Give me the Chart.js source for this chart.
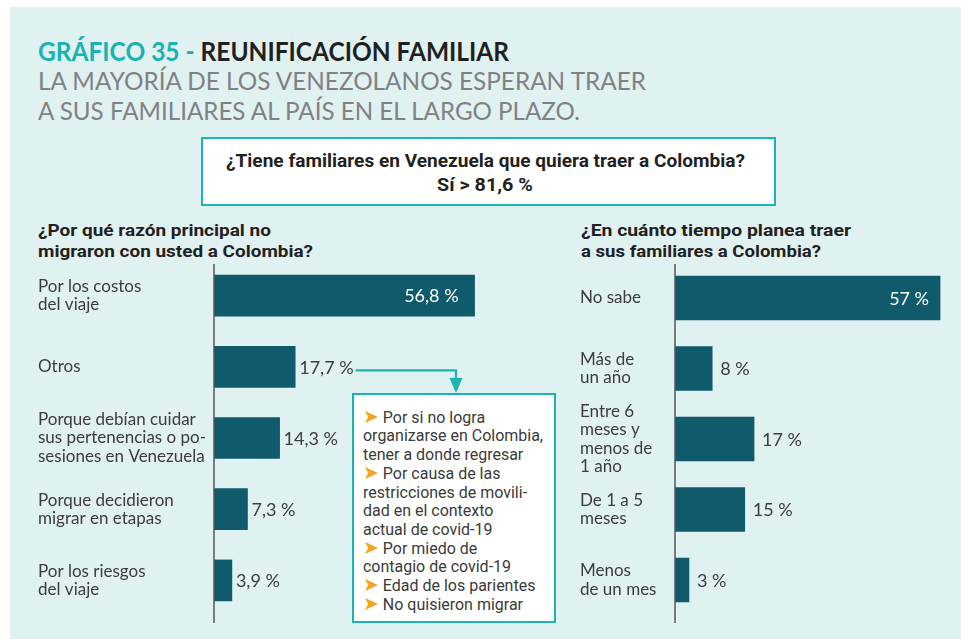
<!DOCTYPE html>
<html><head><meta charset="utf-8">
<script src="https://cdn.jsdelivr.net/npm/chart.js@4.4.1/dist/chart.umd.min.js"></script>
<style>
html,body{margin:0;padding:0;background:#fff;width:961px;height:639px;overflow:hidden;position:relative}
#panel{position:absolute;left:10px;top:7px;right:0;bottom:0;background:#e0f1f1}
.t{position:absolute;white-space:nowrap;line-height:1;transform-origin:0 0;left:0;top:0}
.box{position:absolute;background:#fff;border:2.6px solid #19b5b3;box-sizing:border-box}
canvas{position:absolute}
.hd{font:700 17px Roboto;color:#231f20}
.bx{font:700 19px Roboto;color:#231f20}
#info{position:absolute;left:0;top:0;font:400 16px Roboto;color:#3a3a3a;line-height:18.73px;white-space:nowrap;transform-origin:0 0}
#info div{height:18.73px}
#info b{color:#f2a71b;font-weight:400;font-family:"DejaVu Sans";font-size:19px;line-height:0}
</style></head><body>
<div id="panel"></div>

<div class="t" data-x="38" data-b="61" data-w="471" style="font:700 26px Lato"><span class="in"><span style="color:#19b3b1">GRÁFICO 35 - </span><span style="color:#231f20">REUNIFICACIÓN FAMILIAR</span></span></div>
<div class="t" data-x="38" data-b="90" data-w="608" style="font:400 25px Lato;color:#808184"><span class="in">LA MAYORÍA DE LOS VENEZOLANOS ESPERAN TRAER</span></div>
<div class="t" data-x="38" data-b="120" data-w="542" style="font:400 25px Lato;color:#808184"><span class="in">A SUS FAMILIARES AL PAÍS EN EL LARGO PLAZO.</span></div>

<div class="box" style="left:200.5px;top:137px;width:575px;height:69px"></div>
<div class="t bx" data-x="226" data-b="167.3" data-w="519"><span class="in">¿Tiene familiares en Venezuela que quiera traer a Colombia?</span></div>
<div class="t bx" id="yesline" data-x="436.7" data-b="191.3" data-w="96"><span class="in"></span></div>

<div class="t hd" data-x="38" data-b="236" data-w="233"><span class="in">¿Por qué razón principal no</span></div>
<div class="t hd" data-x="38" data-b="256.7" data-w="275"><span class="in">migraron con usted a Colombia?</span></div>
<div class="t hd" data-x="581" data-b="236" data-w="270"><span class="in">¿En cuánto tiempo planea traer</span></div>
<div class="t hd" data-x="581" data-b="256.7" data-w="240"><span class="in">a sus familiares a Colombia?</span></div>

<canvas id="c1" width="543" height="385" style="left:38px;top:250px"></canvas>
<canvas id="c2" width="374" height="385" style="left:580px;top:250px"></canvas>

<div class="box" style="left:352px;top:393px;width:204px;height:230px;border-width:2.7px"></div>
<div id="info">
<div id="l0"><b>➤</b> Por si no logra</div>
<div><span id="ref">organizarse en Colombia,</span></div>
<div>tener a donde regresar</div>
<div><b>➤</b> Por causa de las</div>
<div>restricciones de movili-</div>
<div>dad en el contexto</div>
<div>actual de covid-19</div>
<div><b>➤</b> Por miedo de</div>
<div>contagio de covid-19</div>
<div><b>➤</b> Edad de los parientes</div>
<div><b>➤</b> No quisieron migrar</div>
</div>

<script>
// ---- data ----
const reasonLabels = [
  ["Por los costos", "del viaje"],
  ["Otros"],
  ["Porque debían cuidar", "sus pertenencias o po-", "sesiones en Venezuela"],
  ["Porque decidieron", "migrar en etapas"],
  ["Por los riesgos", "del viaje"]
];
const reasonValues = [56.8, 17.7, 14.3, 7.3, 3.9];
const timeLabels = [
  ["No sabe"],
  ["Más de", "un año"],
  ["Entre 6", "meses y", "menos de", "1 año"],
  ["De 1 a 5", "meses"],
  ["Menos", "de un mes"]
];
const timeValues = [57, 8, 17, 15, 3];
const yesShare = 81.6;
const calloutCategory = "Otros";

// ---- text placement ----
function fmt(v, d){ return v.toFixed(d).replace('.', ',') + ' %'; }
document.querySelector('#yesline .in').textContent = 'Sí > ' + fmt(yesShare, 1);

function place(el){
  const x = +el.dataset.x, b = +el.dataset.b, w = +el.dataset.w;
  const inner = el.querySelector('.in');
  const mark = document.createElement('i');
  mark.style.cssText = 'display:inline-block;width:0;height:0';
  inner.appendChild(mark);
  el.style.left = x + 'px'; el.style.top = '0px';
  const off = mark.getBoundingClientRect().top - el.getBoundingClientRect().top;
  el.style.top = (b - off) + 'px';
  if (w) {
    const nw = inner.getBoundingClientRect().width;
    el.style.transform = 'scaleX(' + (w / nw) + ')';
  }
}
function layoutText(){
  document.querySelectorAll('.t').forEach(place);
  const info = document.getElementById('info');
  const l0 = document.getElementById('l0');
  const mark = document.createElement('i');
  mark.style.cssText = 'display:inline-block;width:0;height:0';
  l0.appendChild(mark);
  info.style.left = '363px';
  const off = mark.getBoundingClientRect().top - info.getBoundingClientRect().top;
  info.style.top = (422.7 - off) + 'px';
  const rw = document.getElementById('ref').getBoundingClientRect().width;
  info.style.transform = 'scaleX(' + (180 / rw) + ')';
}
layoutText();

// ---- charts ----
const BAR = '#0f5a6b', TXT = '#3c3c3c', TEAL = '#19b5b3';

function makeChart(id, labels, values, cfg){
  const canvasTop = 250;
  const plug = {
    id: 'vlab' + id,
    afterDatasetsDraw(chart){
      const ctx = chart.ctx, meta = chart.getDatasetMeta(0);
      ctx.save();
      // axis line
      ctx.strokeStyle = '#555';
      ctx.lineWidth = 1.5;
      ctx.beginPath();
      ctx.moveTo(chart.chartArea.left, 264 - canvasTop);
      ctx.lineTo(chart.chartArea.left, 623 - canvasTop);
      ctx.stroke();
      ctx.font = '18px Lato';
      ctx.textBaseline = 'middle';
      meta.data.forEach((bar, i) => {
        const txt = fmt(values[i], cfg.dec);
        if (values[i] > 40) {
          ctx.fillStyle = '#ffffff'; ctx.textAlign = 'right';
          ctx.fillText(txt, bar.x - cfg.inPad, bar.y + 1);
        } else {
          ctx.fillStyle = TXT; ctx.textAlign = 'left';
          ctx.fillText(txt, bar.x + cfg.outPad, bar.y + 1);
        }
        if (cfg.callout && labels[i].join(' ') === cfg.callout) {
          const sx = bar.x + cfg.outPad + ctx.measureText(txt).width + 2;
          const ly = bar.y + 3.5;
          const tx = 456 - 38, ty = 393 - canvasTop;
          ctx.strokeStyle = TEAL; ctx.lineWidth = 2.2;
          ctx.beginPath();
          ctx.moveTo(sx, ly); ctx.lineTo(tx, ly); ctx.lineTo(tx, ty - 13);
          ctx.stroke();
          ctx.fillStyle = TEAL;
          ctx.beginPath();
          ctx.moveTo(tx - 6.5, ty - 15); ctx.lineTo(tx + 6.5, ty - 15); ctx.lineTo(tx, ty);
          ctx.closePath(); ctx.fill();
        }
      });
      ctx.restore();
    }
  };
  return new Chart(document.getElementById(id), {
    type: 'bar',
    data: { labels: labels, datasets: [{ data: values, backgroundColor: BAR, borderWidth: 0, barThickness: cfg.thick }] },
    options: {
      indexAxis: 'y', responsive: false, animation: false, events: [],
      layout: { padding: { top: cfg.padTop, bottom: cfg.padBottom, left: 0, right: 0 } },
      plugins: { legend: { display: false }, tooltip: { enabled: false }, title: { display: false } },
      scales: {
        x: { display: false, min: 0, max: cfg.max },
        y: {
          grid: { display: false }, border: { display: false },
          ticks: { font: { family: 'Lato', size: 17, lineHeight: 1.08 }, color: TXT, crossAlign: 'far', padding: 0, autoSkip: false },
          afterFit: s => { s.width = cfg.axisW; s.paddingTop = 0; s.paddingBottom = 0; }
        }
      }
    },
    plugins: [plug]
  });
}

makeChart('c1', reasonLabels, reasonValues, { dec: 1, max: 80, axisW: 176, padTop: 10, padBottom: 19, thick: 41, inPad: 16, outPad: 4, callout: calloutCategory });
makeChart('c2', timeLabels, timeValues, { dec: 0, max: 60, axisW: 95, padTop: 12.75, padBottom: 19.75, thick: 44, inPad: 11, outPad: 8 });
</script>
</body></html>
